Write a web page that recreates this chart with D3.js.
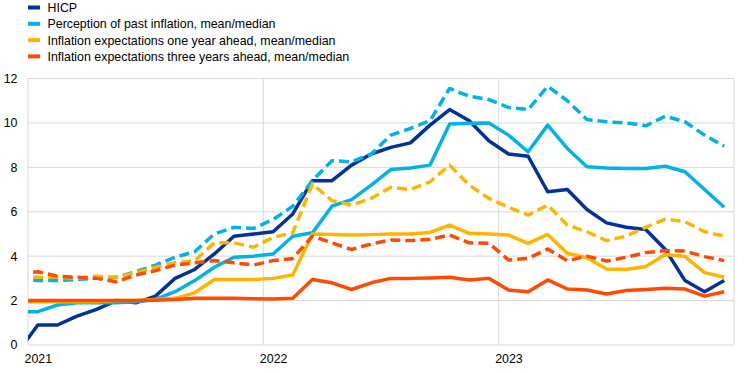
<!DOCTYPE html>
<html>
<head>
<meta charset="utf-8">
<script src="https://cdn.jsdelivr.net/npm/d3@7"></script>
<style>
  body { margin: 0; background: #fff; }
  svg { display: block; font-family: "Liberation Sans", Arial, sans-serif; }
</style>
</head>
<body>
<div class="visArea"></div>
<script>
// months: Dec 2020 (clipped at the left edge) through Dec 2023
var months = d3.range(-1, 36);
var yearLabels = ["2021", "2022", "2023"];
var yTicks = [0, 2, 4, 6, 8, 10, 12];

var hicp = [-0.3,
  0.9, 0.9, 1.3, 1.6, 2.0, 1.9, 2.2, 3.0, 3.4, 4.1, 4.9, 5.0,
  5.1, 5.9, 7.4, 7.4, 8.1, 8.6, 8.9, 9.1, 9.9, 10.6, 10.1, 9.2,
  8.6, 8.5, 6.9, 7.0, 6.1, 5.5, 5.3, 5.2, 4.3, 2.9, 2.4, 2.9];
var pastMean = [2.95,
  2.9, 2.9, 2.95, 3.0, 3.05, 3.3, 3.6, 3.95, 4.2, 5.0, 5.3, 5.25,
  5.65, 6.25, 7.4, 8.3, 8.25, 8.6, 9.45, 9.75, 10.1, 11.55, 11.2, 11.05,
  10.7, 10.6, 11.65, 11.0, 10.15, 10.05, 10.0, 9.87, 10.3, 10.05, 9.45, 8.95];
var pastMedian = [1.5,
  1.5, 1.8, 1.9, 1.9, 1.9, 1.95, 2.05, 2.4, 2.9, 3.5, 3.95, 4.0,
  4.1, 4.9, 5.05, 6.25, 6.55, 7.2, 7.9, 7.97, 8.1, 9.95, 9.98, 10.0,
  9.45, 8.7, 9.9, 8.85, 8.03, 7.97, 7.95, 7.95, 8.05, 7.8, 7.0, 6.2];
var oneYearMean = [3.1,
  3.05, 3.05, 3.0, 3.1, 3.05, 3.25, 3.5, 3.7, 3.8, 4.6, 4.6, 4.4,
  4.85, 5.05, 7.25, 6.5, 6.3, 6.6, 7.1, 7.0, 7.35, 8.1, 7.2, 6.6,
  6.2, 5.85, 6.3, 5.4, 5.1, 4.7, 4.9, 5.3, 5.67, 5.55, 5.1, 4.9];
var oneYearMedian = [1.95,
  1.95, 1.95, 1.95, 1.95, 2.0, 2.0, 2.05, 2.1, 2.35, 2.95, 2.95, 2.95,
  3.0, 3.15, 5.0, 4.98, 4.95, 4.97, 5.0, 5.0, 5.07, 5.4, 5.03, 5.0,
  4.95, 4.58, 4.98, 4.13, 3.93, 3.42, 3.4, 3.53, 4.08, 3.98, 3.26, 3.05];
var threeYearMean = [3.2,
  3.3, 3.1, 3.05, 3.0, 2.85, 3.15, 3.35, 3.6, 3.7, 3.8, 3.7, 3.6,
  3.8, 3.9, 4.9, 4.6, 4.3, 4.55, 4.73, 4.7, 4.76, 4.95, 4.6, 4.58,
  3.83, 3.9, 4.32, 3.8, 4.0, 3.78, 3.95, 4.16, 4.25, 4.23, 3.98, 3.8];
var threeYearMedian = [2.0,
  2.0, 2.0, 2.0, 2.0, 2.0, 2.0, 2.02, 2.05, 2.1, 2.1, 2.1, 2.08,
  2.07, 2.1, 2.95, 2.8, 2.5, 2.8, 3.0, 3.0, 3.02, 3.05, 2.93, 3.0,
  2.48, 2.4, 2.93, 2.52, 2.48, 2.3, 2.45, 2.5, 2.55, 2.52, 2.2, 2.4];

var legendNames = ["HICP", "Perception of past inflation, mean/median",
  "Inflation expectations one year ahead, mean/median",
  "Inflation expectations three years ahead, mean/median"];
var colors = ["#003299", "#00b1ea", "#ffb400", "#ff4b00"];

// series in drawing order (later ones on top)
var series = [
  {values: hicp, color: 0, dashed: false},
  {values: pastMean, color: 1, dashed: true},
  {values: pastMedian, color: 1, dashed: false},
  {values: oneYearMean, color: 2, dashed: true},
  {values: oneYearMedian, color: 2, dashed: false},
  {values: threeYearMean, color: 3, dashed: true},
  {values: threeYearMedian, color: 3, dashed: false}
];

var chartWidth = 744;
var chartHeight = 373;
var plotLeft = 28, plotRight = 734, plotTop = 78.5, plotBottom = 345;

var svg = d3.select('.visArea')
  .append('svg')
  .attr('width', chartWidth)
  .attr('height', chartHeight);

var x = d3.scaleLinear().domain([0, 36]).range([plotLeft, plotRight]);
var y = d3.scaleLinear().domain([0, 12]).range([plotBottom, plotTop]);

// grid
svg.append('g').selectAll('line')
  .data(yTicks)
  .enter().append('line')
  .attr('x1', plotLeft).attr('x2', plotRight)
  .attr('y1', d => y(d)).attr('y2', d => y(d))
  .style('stroke', '#d9d9d9').style('stroke-width', 1);

svg.append('g').selectAll('line')
  .data([0, 12, 24, 36])
  .enter().append('line')
  .attr('x1', d => x(d)).attr('x2', d => x(d))
  .attr('y1', plotTop).attr('y2', plotBottom)
  .style('stroke', '#d9d9d9').style('stroke-width', 1);

// axes
var yAxis = svg.append('g')
  .attr('transform', 'translate(' + plotLeft + ',0)')
  .call(d3.axisLeft(y).tickValues(yTicks).tickSize(0).tickPadding(10.5));
yAxis.select('.domain').remove();
yAxis.selectAll('text').style('font-size', '12.4px').style('fill', '#000')
  .style('font-family', '"Liberation Sans", Arial, sans-serif');

var xAxis = svg.append('g')
  .attr('transform', 'translate(0,' + plotBottom + ')')
  .call(d3.axisBottom(x).tickValues([0.5, 12.5, 24.5]).tickSize(0).tickPadding(9)
    .tickFormat((d, i) => yearLabels[i]));
xAxis.select('.domain').remove();
xAxis.selectAll('text').style('font-size', '12.4px').style('fill', '#000')
  .style('font-family', '"Liberation Sans", Arial, sans-serif');

// lines
svg.append('clipPath').attr('id', 'plotClip')
  .append('rect')
  .attr('x', plotLeft).attr('y', 0)
  .attr('width', plotRight - plotLeft).attr('height', chartHeight);

var line = d3.line()
  .x((d, i) => x(months[i] + 0.5))
  .y(d => y(d));

svg.append('g')
  .attr('clip-path', 'url(#plotClip)')
  .selectAll('path')
  .data(series)
  .enter().append('path')
  .attr('d', d => line(d.values))
  .style('fill', 'none')
  .style('stroke', d => colors[d.color])
  .style('stroke-width', 3.5)
  .style('stroke-linejoin', 'round')
  .style('stroke-dasharray', d => d.dashed ? '10,5' : null);

// legend
var legend = svg.append('g').selectAll('g')
  .data(legendNames)
  .enter().append('g')
  .attr('transform', (d, i) => 'translate(0,' + (7.5 + i * 16.3) + ')');

legend.append('rect')
  .attr('x', 28).attr('y', -2)
  .attr('width', 12).attr('height', 4)
  .style('fill', (d, i) => colors[i]);

legend.append('text')
  .attr('x', 47.5).attr('y', 4.4)
  .style('font-size', '12.4px')
  .style('fill', '#000')
  .text(d => d);
</script>
</body>
</html>
